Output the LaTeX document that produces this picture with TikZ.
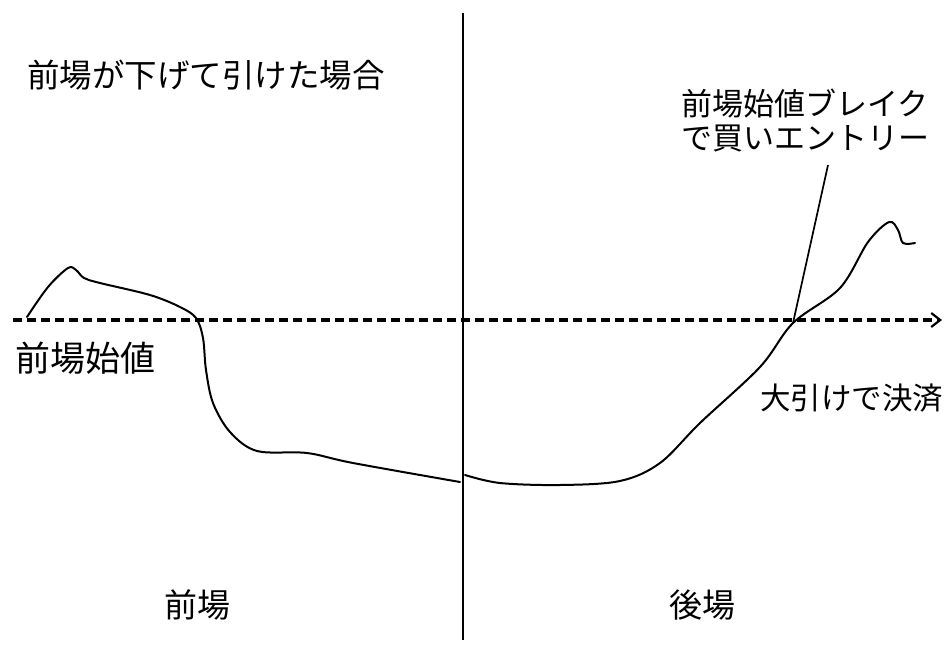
\documentclass[tikz,border=0pt]{standalone}
\usepackage{fontspec}
\setmainfont{Noto Sans CJK JP}
\usetikzlibrary{arrows.meta}
\tikzset{
  lbl/.style={inner sep=0pt, font=\fontsize{31pt}{34pt}\selectfont, text=black},
  price/.style={line width=2pt, line join=round, line cap=round},
  divider/.style={line width=1.8pt},
  openline/.style={line width=3.6pt, dash pattern=on 9pt off 5pt},
  callout/.style={line width=1.7pt}
}
\begin{document}
\begin{tikzpicture}[x=1pt,y=-1pt]
\useasboundingbox[fill=white] (0,0) rectangle (944,645);
% divider between morning and afternoon sessions
\coordinate (vtop) at (463,13);
\coordinate (vbot) at (463,640);
\draw[divider] (vtop) -- (vbot);
% opening price line
\coordinate (dstart) at (13,320);
\coordinate (dend) at (942,320);
\draw[openline, -{Straight Barb[length=9pt,width=14pt,line width=2.2pt]}] (dstart) -- (dend);
% price curve, morning
\draw[price] plot[smooth, tension=0.55] coordinates {(27,317) (48,287) (68,268) (76,270) (84,278) (100,283) (150,295) (180,307) (196,318) (203,338) (206,370) (213,403) (230,432) (257,451) (307,453) (353,463) (460,482)};
% price curve, afternoon
\draw[price] plot[smooth, tension=0.55] coordinates {(465,475) (500,483) (560,485) (620,481) (660,463) (700,423) (760,367) (793,323) (840,288) (868,242) (889,222) (898,230) (903,243) (915,243)};
% callout
\coordinate (ctop) at (828,165);
\coordinate (cbot) at (793,323);
\draw[callout] (ctop) -- (cbot);
% labels
\node[lbl, anchor=west, font=\fontsize{32.5pt}{34pt}\selectfont] (title) at (27,75) {前場が下げて引けた場合};
\node[lbl, anchor=west, font=\fontsize{35pt}{36pt}\selectfont] (open) at (15,358) {前場始値};
\node[lbl, anchor=west, align=left] (entry) at (681,121) {前場始値ブレイク\\で買いエントリー};
\node[lbl, anchor=west, font=\fontsize{30.5pt}{32pt}\selectfont] (close) at (760,398) {大引けで決済};
\node[lbl, font=\fontsize{33pt}{34pt}\selectfont] (am) at (197,605) {前場};
\node[lbl, font=\fontsize{33pt}{34pt}\selectfont] (pm) at (702,605) {後場};
\end{tikzpicture}
\end{document}
